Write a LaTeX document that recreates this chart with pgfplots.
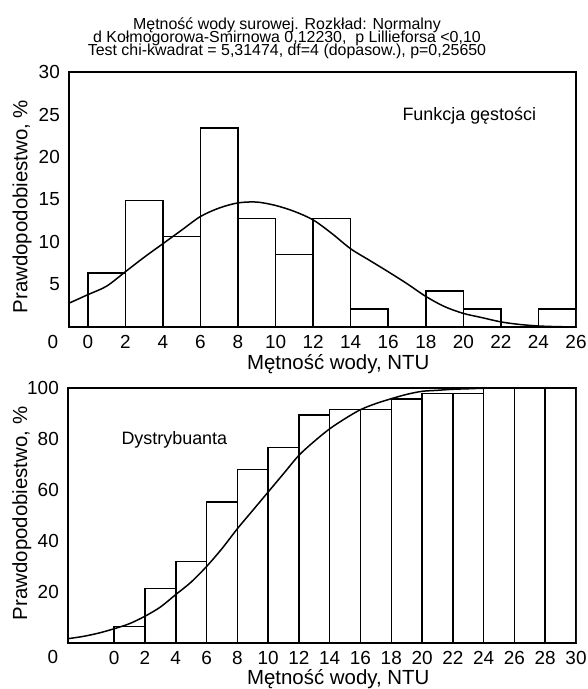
\documentclass[border=0pt]{standalone}
\usepackage{fontspec}
\setmainfont{Liberation Sans}
\usepackage{pgfplots}
\pgfplotsset{compat=1.18}
\begin{document}
\begin{tikzpicture}
\useasboundingbox (0,0) rectangle (588bp,-689bp);
\pgfplotsset{
  mystyle/.style={
    scale only axis,
    anchor=south west,
    axis line style={line width=1.5bp},
    major tick length=0pt,
    /pgf/number format/assume math mode=true,
    tick label style={font=\fontsize{19}{19}\selectfont, inner sep=0pt},
    xticklabel style={yshift=-8bp},
    yticklabel style={xshift=-9bp},
    label style={font=\fontsize{20.5}{20.5}\selectfont},
    clip=true,
  }
}
% ---------- top: density ----------
\begin{axis}[mystyle,
  at={(69bp,-327bp)}, width=507bp, height=255bp,
  xmin=-1, xmax=26, ymin=0, ymax=30,
  xtick={0,2,...,26}, ytick={5,10,...,30},
  xlabel={Mętność wody, NTU},
  ylabel={Prawdopodobiestwo, \%},
  xlabel style={at={(axis description cs:0.531,-0.1686)}, anchor=base},
  ylabel style={at={(axis description cs:-0.0822,0.4725)}, anchor=base, rotate=0},
]
\addplot[ybar interval, fill=white, draw=black, line width=1.5bp] coordinates {
 (0,6.38) (2,14.89) (4,10.64) (6,23.40) (8,12.77) (10,8.51) (12,12.77)
 (14,2.13) (16,0) (18,4.26) (20,2.13) (22,0) (24,2.13) (26,2.13)};
\addplot[black, line width=1.5bp, smooth] coordinates {
 (-1,2.8) (0,3.8) (1,4.8) (2,6.5) (3,8.2) (4,9.8) (5,11.4) (6,13.0) (7,14.0)
 (8,14.6) (9,14.7) (10,14.3) (11,13.6) (12,12.6) (13,11.0) (14,9.2) (15,7.85)
 (16,6.5) (17,5.1) (18,3.6) (19,2.4) (20,1.6) (21,1.1) (22,0.6) (23,0.3)
 (24,0.12) (25,0.04) (26,0.01)};
\end{axis}
% ---------- bottom: cumulative ----------
\begin{axis}[mystyle,
  at={(68bp,-643bp)}, width=508bp, height=255bp,
  xmin=-3, xmax=30, ymin=0, ymax=100,
  xtick={0,2,...,30}, ytick={20,40,...,100},
  xlabel={Mętność wody, NTU},
  ylabel={Prawdopodobiestwo, \%},
  xlabel style={at={(axis description cs:0.532,-0.1610)}, anchor=base},
  ylabel style={at={(axis description cs:-0.0807,0.508)}, anchor=base, rotate=0},
]
\addplot[ybar interval, fill=white, draw=black, line width=1.5bp] coordinates {
 (0,6.38) (2,21.28) (4,31.91) (6,55.32) (8,68.09) (10,76.60) (12,89.36)
 (14,91.49) (16,91.49) (18,95.74) (20,97.87) (22,97.87) (24,100) (26,100)
 (28,100) (30,100)};
\addplot[black, line width=1.5bp, smooth] coordinates {
 (-3,1.7) (-2,2.6) (-1,3.9) (0,5.6) (1,7.6) (2,10.5) (3,14.1) (4,19.0)
 (5,23.9) (6,30.0) (7,37.0) (8,44.8) (9,52.0) (10,59.2) (11,66.4) (12,73.6)
 (13,79.1) (14,84.0) (15,88.0) (16,91.5) (17,93.9) (18,95.8) (19,97.5)
 (20,98.7) (21,99.1) (22,99.5) (23,99.7) (24,99.9) (26,100) (30,100)};
\end{axis}
% ---------- texts ----------
\node[anchor=base, font=\fontsize{16}{16}\selectfont] at (287bp,-29bp) {Mętność wody surowej. Rozkład: Normalny};
\node[anchor=base, font=\fontsize{16}{16}\selectfont] at (287bp,-42bp) {d Kołmogorowa-Smirnowa 0,12230,\ \ p Lillieforsa <0,10};
\node[anchor=base, font=\fontsize{16}{16}\selectfont] at (287bp,-55bp) {Test chi-kwadrat = 5,31474, df=4 (dopasow.), p=0,25650};
\node[anchor=base west, font=\fontsize{18}{18}\selectfont] at (399bp,-120bp) {Funkcja gęstości};
\node[anchor=base west, font=\fontsize{18}{18}\selectfont] at (118bp,-444.5bp) {Dystrybuanta};
\node[font=\fontsize{19}{19}\selectfont] at (53bp,-342bp) {0};
\node[font=\fontsize{19}{19}\selectfont] at (53bp,-657bp) {0};
\end{tikzpicture}
\end{document}
